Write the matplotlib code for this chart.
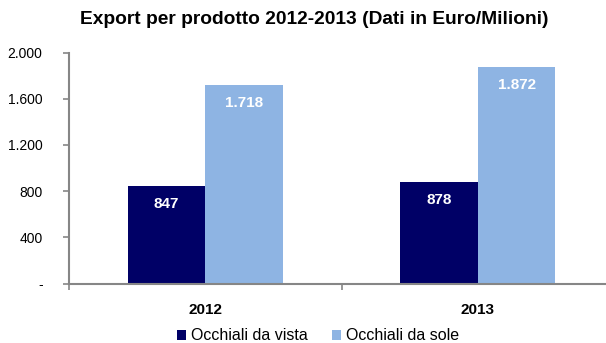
import matplotlib
matplotlib.use("Agg")
import matplotlib.pyplot as plt
from matplotlib.ticker import FixedLocator
import numpy as np

plt.rcParams['font.family'] = ['Liberation Sans', 'DejaVu Sans']

years = ["2012", "2013"]
series_names = ["Occhiali da vista", "Occhiali da sole"]
vista = [847, 878]
sole = [1718, 1872]
value_labels_vista = ["847", "878"]
value_labels_sole = ["1.718", "1.872"]
y_ticks = [0, 400, 800, 1200, 1600, 2000]
y_tick_labels = ["-", "400", "800", "1.200", "1.600", "2.000"]

dark = "#000066"
light = "#8EB4E3"
axis_gray = "#868686"

W, H = 606, 343
fig = plt.figure(figsize=(W / 100, H / 100), dpi=100)

left, right = 69, 614
bottom, top = 283.5, 52.5
ax = fig.add_axes([left / W, (H - bottom) / H, (right - left) / W, (bottom - top) / H])

x = np.arange(len(years))
bw = 0.285
b1 = ax.bar(x - bw / 2, vista, bw, color=dark, zorder=2)
b2 = ax.bar(x + bw / 2, sole, bw, color=light, zorder=2)

ax.set_xlim(-0.5, 1.5)
ax.set_ylim(0, 2000)

# value labels inside the top of each bar
px_per_unit = (bottom - top) / 2000
off = 18 / px_per_unit
for xi, v, lab in zip(x - bw / 2, vista, value_labels_vista):
    ax.text(xi, v - off, lab, ha="center", va="center", color="white",
            fontsize=11, fontweight="bold", zorder=3)
for xi, v, lab in zip(x + bw / 2, sole, value_labels_sole):
    ax.text(xi, v - off, lab, ha="center", va="center", color="white",
            fontsize=11, fontweight="bold", zorder=3)

for s in ["top", "right"]:
    ax.spines[s].set_visible(False)
for s in ["left", "bottom"]:
    ax.spines[s].set_color(axis_gray)
    ax.spines[s].set_linewidth(1.5)

ax.set_yticks(y_ticks)
ax.set_yticklabels(y_tick_labels, fontsize=10)
ax.tick_params(axis="y", direction="out", length=4, width=1.2, color=axis_gray, pad=15)

ax.set_xticks(x)
ax.set_xticklabels(years, fontsize=11, fontweight="bold")
ax.tick_params(axis="x", which="major", length=0, pad=14)
ax.xaxis.set_minor_locator(FixedLocator([-0.5, 0.5, 1.5]))
ax.tick_params(axis="x", which="minor", direction="out", length=4, width=1.2, color=axis_gray)

fig.text(314 / W, (H - 20) / H, "Export per prodotto 2012-2013 (Dati in Euro/Milioni)",
         ha="center", va="center", fontsize=13.8, fontweight="bold")

leg = fig.legend([b1, b2], series_names, loc="center", bbox_to_anchor=(318 / W, (H - 336) / H),
                 ncol=2, frameon=False, fontsize=11.5, handlelength=0.6, handleheight=0.6,
                 handletextpad=0.3, columnspacing=1.5, borderpad=0)

fig.savefig("out.png", dpi=100)
